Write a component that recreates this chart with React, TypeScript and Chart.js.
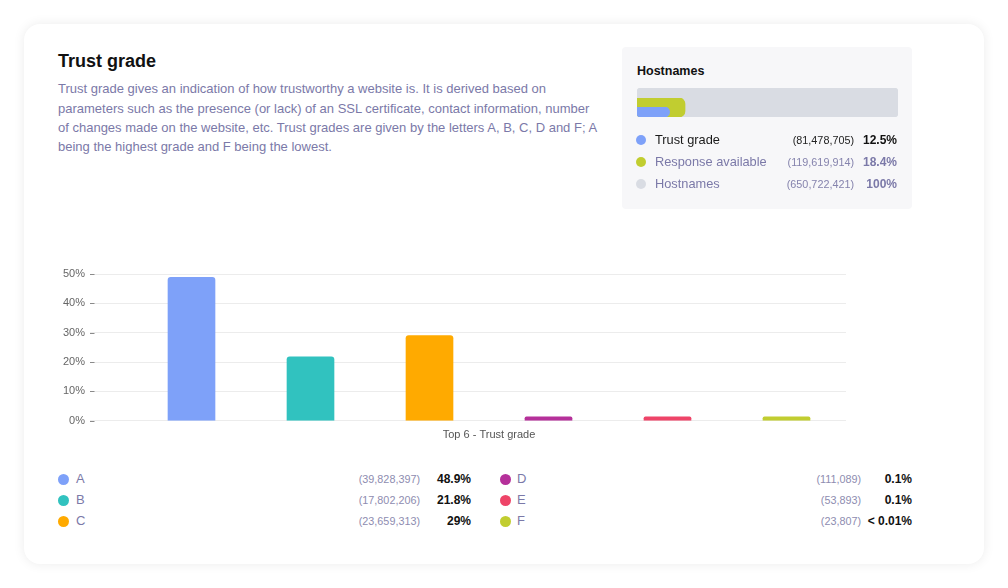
import React, { useEffect, useRef } from "react";
import { Chart, registerables } from "chart.js";
Chart.register(...registerables);

// ---------- data ----------
const grades = ["A", "B", "C", "D", "E", "F"];
const gradePercents = [48.9, 21.8, 29, 0.1, 0.1, 0.01];
const gradeCounts = [39828397, 17802206, 23659313, 111089, 53893, 23807];
const gradePercentLabels = ["48.9%", "21.8%", "29%", "0.1%", "0.1%", "< 0.01%"];
const yTickValues = [0, 10, 20, 30, 40, 50];
const axisTitle = "Top 6 - Trust grade";

const hostLabels = ["Trust grade", "Response available", "Hostnames"];
const hostCounts = [81478705, 119619914, 650722421];
const hostPercents = [12.5, 18.4, 100];
const hostPercentLabels = ["12.5%", "18.4%", "100%"];

const titleText = "Trust grade";
const descriptionLines = [
  "Trust grade gives an indication of how trustworthy a website is. It is derived based on",
  "parameters such as the presence (or lack) of an SSL certificate, contact information, number",
  "of changes made on the website, etc. Trust grades are given by the letters A, B, C, D and F; A",
  "being the highest grade and F being the lowest.",
];

// ---------- styles ----------
const FONT = "'Liberation Sans', 'Helvetica Neue', Arial, sans-serif";
const gradeColors = ["#7ea1f9", "#31c2bf", "#ffaa00", "#b5309a", "#ee4468", "#c1cd30"];
const hostColors = ["#7ea1f9", "#c1cd30", "#d9dce3"];
const PURPLE = "#7b79a8";
const COUNT = "#8e8cb0";

const fmt = (n: number) => "(" + n.toLocaleString("en-US") + ")";

const tickDashPlugin = {
  id: "tickDash",
  afterDraw(chart: any) {
    const y = chart.scales.y;
    const ctx = chart.ctx;
    ctx.save();
    ctx.strokeStyle = "#8a8a8a";
    ctx.lineWidth = 1;
    y.ticks.forEach((t: any) => {
      const py = Math.round(y.getPixelForValue(t.value)) + 0.5;
      ctx.beginPath();
      ctx.moveTo(y.right - 42, py);
      ctx.lineTo(y.right - 37.5, py);
      ctx.stroke();
    });
    ctx.restore();
  },
};

function MainChart() {
  const ref = useRef<HTMLCanvasElement>(null);
  useEffect(() => {
    const chart = new Chart(ref.current as HTMLCanvasElement, {
      type: "bar",
      data: {
        labels: grades,
        datasets: [
          {
            data: gradePercents,
            backgroundColor: gradeColors,
            barThickness: 47,
            borderRadius: 3,
            borderSkipped: "start",
            minBarLength: 4,
          },
        ],
      },
      options: {
        responsive: false,
        animation: false,
        layout: { padding: { top: 12, right: 24, bottom: 2, left: 0 } },
        plugins: { legend: { display: false }, tooltip: { enabled: false } },
        scales: {
          x: {
            grid: { display: false },
            border: { display: false },
            ticks: { display: false },
            title: {
              display: true,
              text: axisTitle,
              color: "#555",
              font: { size: 11, family: FONT },
              padding: { top: 0, bottom: 4 },
            },
          },
          y: {
            min: 0,
            max: 50,
            afterBuildTicks: (s: any) => {
              s.ticks = yTickValues.map((v) => ({ value: v }));
            },
            ticks: {
              callback: (v: any) => v + "%",
              color: "#666",
              font: { size: 11, family: FONT },
              padding: 5,
            },
            grid: { color: "#ececec", tickColor: "#ececec", tickLength: 42 },
            border: { display: false },
            afterFit: (s: any) => {
              s.width = 92;
            },
          },
        },
      },
      plugins: [tickDashPlugin],
    } as any);
    return () => chart.destroy();
  }, []);
  return (
    <canvas
      ref={ref}
      width={830}
      height={186}
      style={{ position: "absolute", left: 40, top: 262, width: 830, height: 186 }}
    />
  );
}

function MiniBar(props: { value: number; color: string; top: number; height: number; radius: any }) {
  const ref = useRef<HTMLCanvasElement>(null);
  useEffect(() => {
    const chart = new Chart(ref.current as HTMLCanvasElement, {
      type: "bar",
      data: {
        labels: [""],
        datasets: [
          {
            data: [props.value],
            backgroundColor: props.color,
            barPercentage: 1,
            categoryPercentage: 1,
            borderRadius: props.radius,
            borderSkipped: false,
          },
        ],
      },
      options: {
        indexAxis: "y",
        responsive: false,
        animation: false,
        layout: { padding: 0 },
        plugins: { legend: { display: false }, tooltip: { enabled: false } },
        scales: {
          x: { min: 0, max: 100, display: false },
          y: { display: false },
        },
      },
    } as any);
    return () => chart.destroy();
  }, []);
  return (
    <canvas
      ref={ref}
      width={261}
      height={props.height}
      style={{ position: "absolute", left: 637, top: props.top, width: 261, height: props.height }}
    />
  );
}

const abs = (o: any) => ({ position: "absolute" as const, whiteSpace: "nowrap" as const, ...o });

function TextAt(p: { x?: number; right?: number; cy: number; size: number; color: string; bold?: boolean; children: any }) {
  const L = Math.round(p.size * 1.4);
  const style: any = {
    top: p.cy - L / 2,
    height: L,
    lineHeight: L + "px",
    fontSize: p.size,
    color: p.color,
    fontWeight: p.bold ? 700 : 400,
  };
  if (p.right !== undefined) {
    style.left = p.right - 300;
    style.width = 300;
    style.textAlign = "right";
  } else style.left = p.x;
  return <div style={abs(style)}>{p.children}</div>;
}

export default function App() {
  const rowsY = [479, 500, 521];
  const hostRowsY = [140, 162, 184];
  return (
    <div
      style={{
        position: "absolute",
        left: 0,
        top: 0,
        width: 1008,
        height: 588,
        background: "#fff",
        fontFamily: FONT,
        overflow: "hidden",
      }}
    >
      <div
        style={{
          position: "absolute",
          left: 24,
          top: 24,
          width: 960,
          height: 540,
          borderRadius: 16,
          background: "#fff",
          boxShadow: "0 0 12px rgba(0,0,0,0.08)",
        }}
      />
      <div style={abs({ left: 58, top: 51, fontSize: 18, lineHeight: "20px", fontWeight: 700, color: "#111" })}>
        {titleText}
      </div>
      <div style={abs({ left: 58, top: 79.4, fontSize: 13, lineHeight: "19.3px", color: PURPLE })}>
        {descriptionLines.map((l, i) => (
          <div key={i}>{l}</div>
        ))}
      </div>

      {/* Hostnames box */}
      <div style={abs({ left: 622, top: 47, width: 290, height: 162, background: "#f7f7f9", borderRadius: 4 })} />
      <TextAt x={637} cy={71} size={12.5} color="#111" bold>
        Hostnames
      </TextAt>
      <MiniBar value={hostPercents[2]} color={hostColors[2]} top={88} height={29} radius={4} />
      <MiniBar
        value={hostPercents[1]}
        color={hostColors[1]}
        top={98}
        height={19}
        radius={{ topLeft: 0, topRight: 6, bottomRight: 6, bottomLeft: 4 }}
      />
      <MiniBar
        value={hostPercents[0]}
        color={hostColors[0]}
        top={107}
        height={10}
        radius={{ topLeft: 0, topRight: 5, bottomRight: 5, bottomLeft: 4 }}
      />
      {hostLabels.map((l, i) => (
        <React.Fragment key={l}>
          <div
            style={abs({
              left: 636,
              top: hostRowsY[i] - 5,
              width: 10,
              height: 10,
              borderRadius: 5,
              background: hostColors[i],
            })}
          />
          <TextAt x={655} cy={hostRowsY[i]} size={12.8} color={i === 0 ? "#1a1a1a" : PURPLE}>
            {l}
          </TextAt>
          <TextAt right={854} cy={hostRowsY[i]} size={10.8} color={i === 0 ? "#222" : "#8583ad"}>
            {fmt(hostCounts[i])}
          </TextAt>
          <TextAt right={897} cy={hostRowsY[i]} size={12} color={i === 0 ? "#111" : PURPLE} bold>
            {hostPercentLabels[i]}
          </TextAt>
        </React.Fragment>
      ))}

      <MainChart />

      {/* Grade legend */}
      {grades.map((g, i) => {
        const col = i < 3 ? 0 : 1;
        const cy = rowsY[i % 3];
        const dotC = col === 0 ? 63.5 : 505;
        const labX = col === 0 ? 76 : 517;
        const cntR = col === 0 ? 420 : 861;
        const pctR = col === 0 ? 471 : 912;
        return (
          <React.Fragment key={g}>
            <div
              style={abs({
                left: dotC - 5.5,
                top: cy - 5.5,
                width: 11,
                height: 11,
                borderRadius: 6,
                background: gradeColors[i],
              })}
            />
            <TextAt x={labX} cy={cy} size={13} color={PURPLE}>
              {g}
            </TextAt>
            <TextAt right={cntR} cy={cy} size={10.8} color={COUNT}>
              {fmt(gradeCounts[i])}
            </TextAt>
            <TextAt right={pctR} cy={cy} size={12} color="#111" bold>
              {gradePercentLabels[i]}
            </TextAt>
          </React.Fragment>
        );
      })}
    </div>
  );
}
